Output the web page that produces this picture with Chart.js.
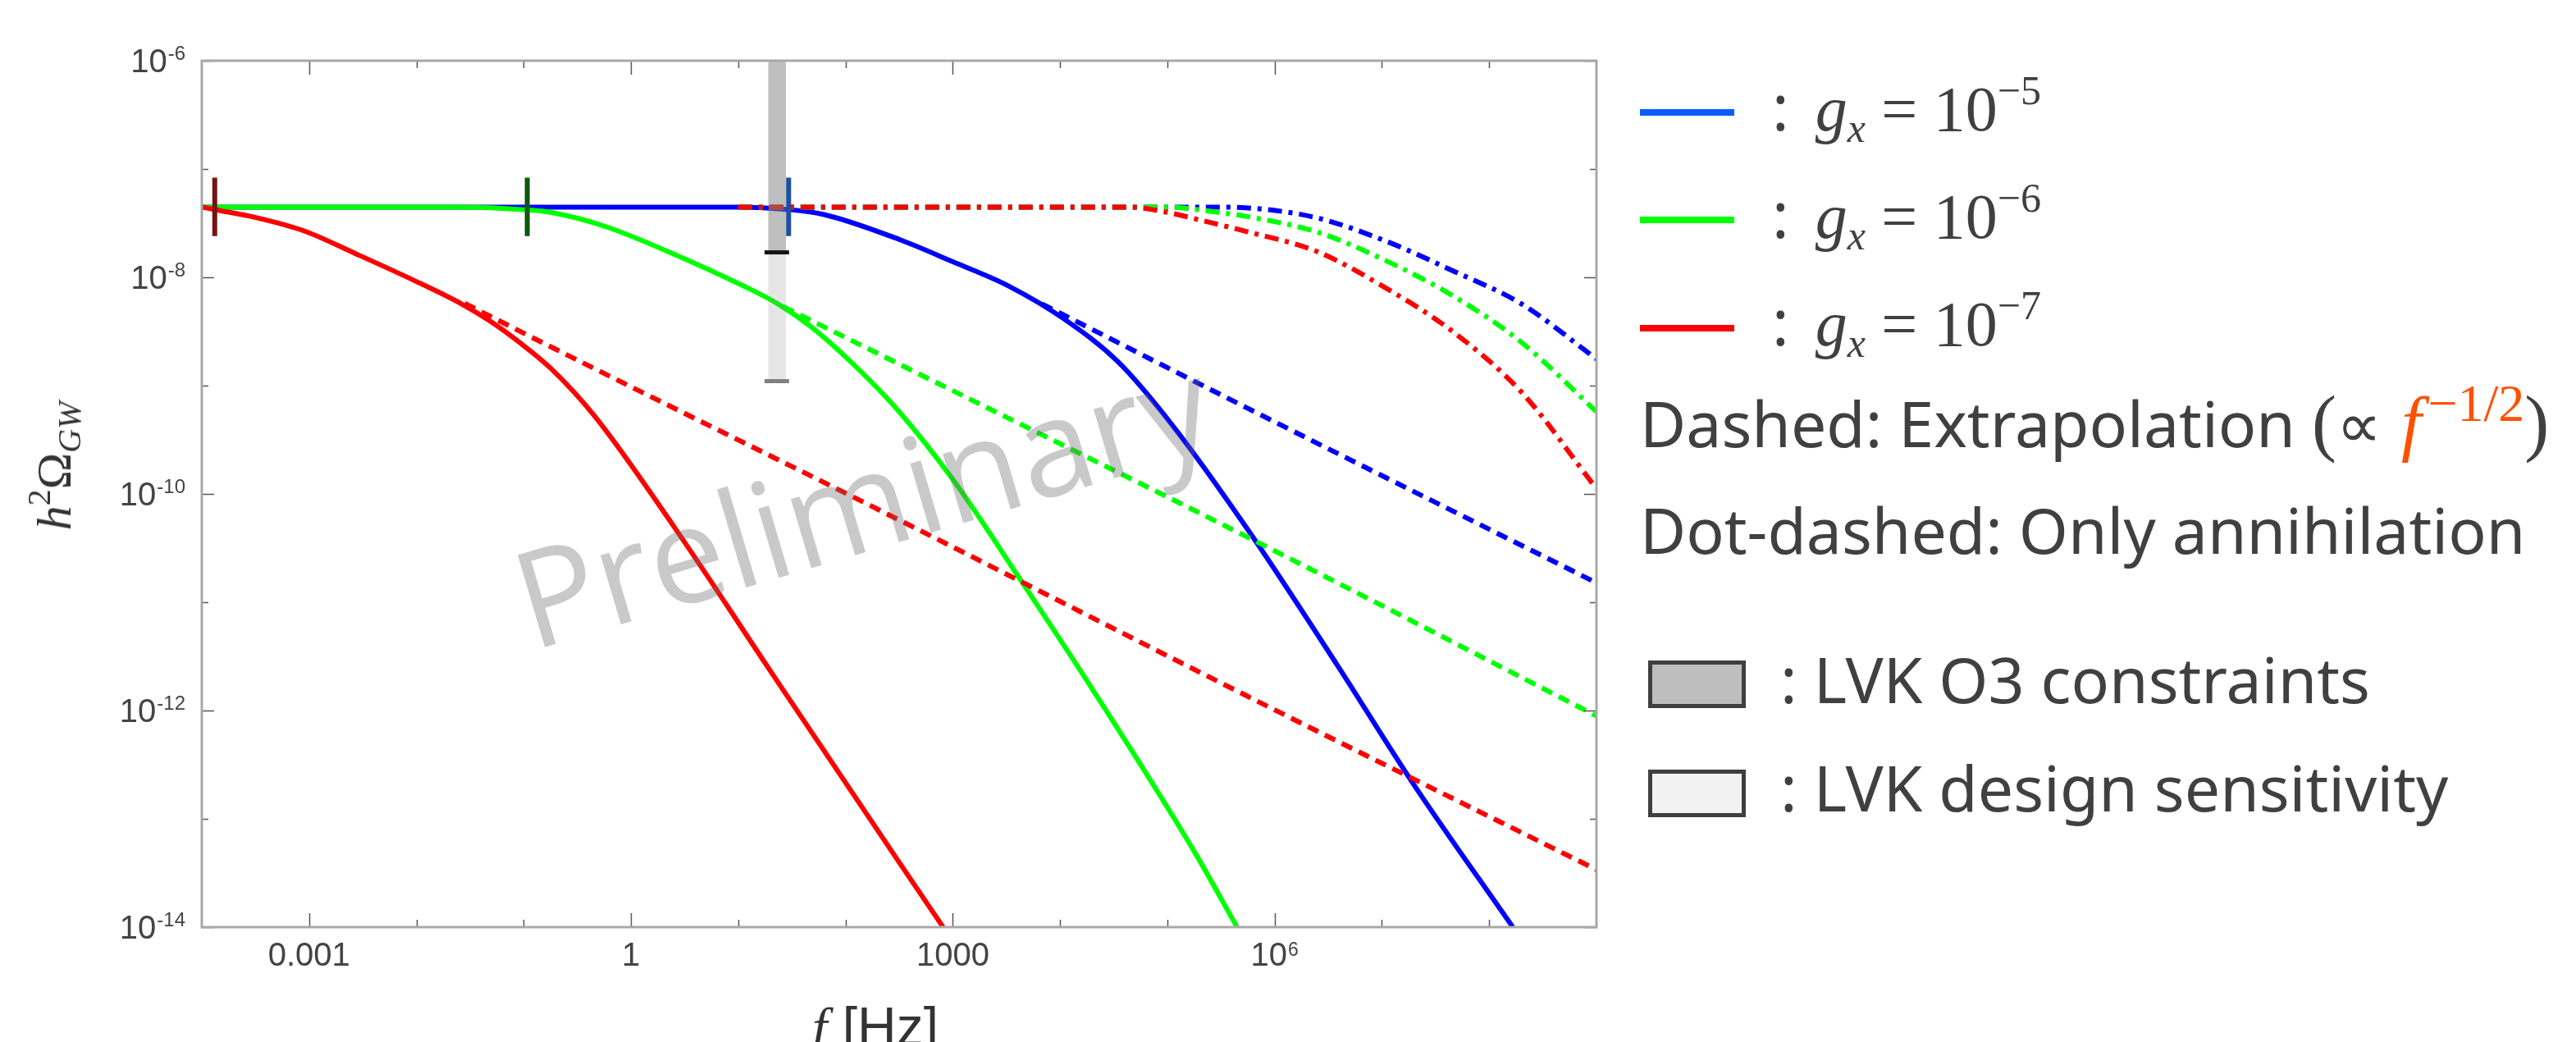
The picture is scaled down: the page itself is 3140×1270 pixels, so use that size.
<!DOCTYPE html>
<html lang="en">
<head>
<meta charset="UTF-8">
<title>GW spectrum</title>
<script src="https://cdn.jsdelivr.net/npm/chart.js"></script>
<style>
  body { margin:0; width:3140px; height:1270px; overflow:hidden; background:#fff; position:relative;
         font-family:"Noto Sans", sans-serif; color:#404040; }
  #chart { position:absolute; left:0; top:0; }
  .legline { position:absolute; left:1999px; width:115px; height:8px; }
  .row { position:absolute; white-space:nowrap; font-size:77px; line-height:1; }
  .math { font-family:"Liberation Serif", serif; font-size:78px; }
  .math i, .serif { font-family:"Liberation Serif", serif; }
  .sub { font-size:50px; font-style:italic; position:relative; top:14px; }
  .sup { font-size:50px; position:relative; top:-32px; }
  .orange { color:#ff5000; }
  .paren { font-family:"Liberation Serif", serif; font-size:90px; }
  .big { font-size:88px; margin-left:4px; }
  .sup2 { font-size:64px; position:relative; top:-32px; margin-left:8px; }
  .box { position:absolute; left:2009px; width:119px; height:58px; border:5px solid #3f3f3f; box-sizing:border-box; }
  #ylab { position:absolute; left:66px; top:568px; transform:translate(-50%,-50%) rotate(-90deg);
          font-family:"Liberation Serif", serif; font-size:60px; white-space:nowrap; color:#333; line-height:1; }
  #ylab .s1 { font-size:40px; position:relative; top:-25px; }
  #ylab .s2 { font-size:40px; position:relative; top:12px; font-style:italic; }
  #xlab { position:absolute; left:990px; top:1218px; font-family:"Liberation Sans", sans-serif; font-size:66px;
          line-height:1; white-space:nowrap; color:#333; }
  #xlab i { font-family:"Liberation Serif", serif; }
</style>
</head>
<body>
<canvas id="chart" width="3140" height="1270"></canvas>

<div id="ylab"><i>h</i><span class="s1">2</span>Ω<span class="s2">GW</span></div>
<div id="xlab"><i>f</i> [Hz]</div>

<div class="legline" style="top:133px;background:#0a5cff"></div>
<div class="legline" style="top:264px;background:#00ff00"></div>
<div class="legline" style="top:396px;background:#ff0000"></div>
<div class="row" style="left:2160px;top:91px"><span>:</span><span class="math" style="margin-left:32px"><i>g</i><span class="sub">x</span> = 10<span class="sup">−5</span></span></div>
<div class="row" style="left:2160px;top:222px"><span>:</span><span class="math" style="margin-left:32px"><i>g</i><span class="sub">x</span> = 10<span class="sup">−6</span></span></div>
<div class="row" style="left:2160px;top:353px"><span>:</span><span class="math" style="margin-left:32px"><i>g</i><span class="sub">x</span> = 10<span class="sup">−7</span></span></div>
<div class="row" style="left:1999px;top:470px">Dashed: Extrapolation <span class="paren">(</span>∝ <span class="orange"><i class="serif big">f</i><span class="sup2 serif">−1/2</span></span><span class="paren">)</span></div>
<div class="row" style="left:1999px;top:607px">Dot-dashed: Only annihilation</div>
<div class="box" style="top:805px;background:#bebebe"></div>
<div class="box" style="top:938px;background:#f2f2f2"></div>
<div class="row" style="left:2170px;top:789px">: LVK O3 constraints</div>
<div class="row" style="left:2170px;top:921px">: LVK design sensitivity</div>

<script>
// axis limits
const xMin = 1e-4, xMax = 1e9;
const yMin = 1e-14, yMax = 1e-6;

// ticks
const xTickValues = [1e-3, 1e-2, 1e-1, 1, 10, 100, 1e3, 1e4, 1e5, 1e6, 1e7, 1e8];
const xLabelValues = [1e-3, 1, 1e3, 1e6];
const xLabelBase = ['0.001', '1', '1000', '10'];
const xLabelExp = ['', '', '', '6'];
const yTickValues = [1e-13, 1e-12, 1e-11, 1e-10, 1e-9, 1e-8, 1e-7];
const yLabelValues = [1e-6, 1e-8, 1e-10, 1e-12, 1e-14];
const yLabelExp = ['-6', '-8', '-10', '-12', '-14'];

// solid curves (f [Hz], h^2 Omega_GW)
const redSolidF = [1e-4, 1.32e-4, 3.24e-4, 8.91e-4, 2.69e-3, 9.12e-3, 2.63e-2, 4.79e-2, 9.12e-2, 0.178, 0.457, 2.51, 19.5, 316, 813];
const redSolidOmega = [4.45e-8, 4.22e-8, 3.55e-8, 2.69e-8, 1.66e-8, 9.55e-9, 5.69e-9, 3.98e-9, 2.51e-9, 1.45e-9, 5.25e-10, 5.01e-11, 2.40e-12, 3.98e-14, 1e-14];
const greenSolidF = [1e-4, 0.0251, 0.108, 0.178, 0.575, 2.51, 10.7, 23.4, 46.8, 112, 316, 1023, 4467, 19055, 177828, 446684];
const greenSolidOmega = [4.45e-8, 4.45e-8, 4.19e-8, 3.98e-8, 2.95e-8, 1.64e-8, 8.51e-9, 5.69e-9, 3.55e-9, 1.66e-9, 5.75e-10, 1.32e-10, 1.51e-11, 1.70e-12, 5.01e-14, 1e-14];
const blueSolidF = [1e-4, 10, 29.5, 63.1, 316, 1023, 3311, 10715, 34674, 112202, 562341, 3.89e6, 1.91e7, 1.66e8];
const blueSolidOmega = [4.45e-8, 4.45e-8, 4.22e-8, 3.80e-8, 2.24e-8, 1.38e-8, 8.32e-9, 4.17e-9, 1.66e-9, 4.27e-10, 4.68e-11, 2.57e-12, 2.19e-13, 1e-14];

// dashed extrapolations
const redDashF = [0.0282, 0.178, 316, 562341, 1e9];
const redDashOmega = [5.75e-9, 2.29e-9, 5.75e-11, 1.35e-12, 3.39e-14];
const greenDashF = [26.3, 316, 562341, 1e9];
const greenDashOmega = [5.37e-9, 1.58e-9, 3.98e-11, 8.91e-13];
const blueDashF = [6761, 562341, 1e9];
const blueDashOmega = [5.69e-9, 6.17e-10, 1.51e-11];

// dot-dashed (only annihilation)
const redDotDashF = [10, 43652, 1e5, 199526, 562341, 2.45e6, 1.05e7, 4.57e7, 2.0e8, 1e9];
const redDotDashOmega = [4.45e-8, 4.45e-8, 3.98e-8, 3.39e-8, 2.63e-8, 1.74e-8, 8.13e-9, 3.16e-9, 8.71e-10, 1.12e-10];
const greenDotDashF = [10, 1e5, 251189, 562341, 2.45e6, 1.05e7, 4.57e7, 2.0e8, 1e9];
const greenDotDashOmega = [4.45e-8, 4.45e-8, 4.07e-8, 3.63e-8, 2.63e-8, 1.45e-8, 6.76e-9, 2.51e-9, 5.75e-10];
const blueDotDashF = [10, 251189, 562341, 2.45e6, 1.05e7, 4.57e7, 2.0e8, 1e9];
const blueDotDashOmega = [4.45e-8, 4.45e-8, 4.37e-8, 3.55e-8, 2.19e-8, 1.15e-8, 5.69e-9, 1.76e-9];

// vertical markers
const markerF = [1.32e-4, 0.108, 29.5];
const markerColors = ['#741515', '#0b5a0b', '#1f4fa0'];
const markerOmegaTop = 8.32e-8, markerOmegaBottom = 2.40e-8;

// LVK band
const lvkF = [19, 28];
const lvkCapF = [17.6, 29.8];
const lvkO3Omega = 1.7e-8;
const lvkDesignOmega = 1.1e-9;

function pts(fs, ys) { return fs.map((f, i) => ({ x: f, y: ys[i] })); }

function curve(fs, ys, color, dash) {
    return {
        data: pts(fs, ys),
        borderColor: color,
        borderWidth: 6,
        borderDash: dash || [],
        borderCapStyle: 'butt',
        cubicInterpolationMode: 'monotone',
        pointRadius: 0,
        fill: false,
        clip: 0
    };
}

function segment(fs, ys, color, width) {
    return { data: pts(fs, ys), borderColor: color, borderWidth: width, borderCapStyle: 'butt',
             pointRadius: 0, fill: false, tension: 0, clip: 0 };
}

const dotDash = [17, 8, 5, 8];
const dash = [14, 9];

const datasets = [];
// markers and caps on top
markerF.forEach((f, i) => datasets.push(segment([f, f], [markerOmegaTop, markerOmegaBottom], markerColors[i], 6)));
datasets.push(segment(lvkCapF, [lvkO3Omega, lvkO3Omega], '#141414', 5));
datasets.push(segment(lvkCapF, [lvkDesignOmega, lvkDesignOmega], '#808080', 5));
// LVK bars
datasets.push({ data: pts(lvkF, [lvkO3Omega, lvkO3Omega]), borderWidth: 0, pointRadius: 0,
                backgroundColor: 'rgba(128,128,128,0.5)', fill: { value: yMax }, clip: 0 });
datasets.push({ data: pts(lvkF, [lvkDesignOmega, lvkDesignOmega]), borderWidth: 0, pointRadius: 0,
                backgroundColor: 'rgba(128,128,128,0.2)', fill: { value: lvkO3Omega }, clip: 0 });
// lines
datasets.push(curve(redDotDashF, redDotDashOmega, '#ff0000', dotDash));
datasets.push(curve(greenDotDashF, greenDotDashOmega, '#00ff00', dotDash));
datasets.push(curve(blueDotDashF, blueDotDashOmega, '#0000ff', dotDash));
datasets.push(curve(redDashF, redDashOmega, '#ff0000', dash));
datasets.push(curve(greenDashF, greenDashOmega, '#00ff00', dash));
datasets.push(curve(blueDashF, blueDashOmega, '#0000ff', dash));
datasets.push(curve(redSolidF, redSolidOmega, '#ff0000'));
datasets.push(curve(greenSolidF, greenSolidOmega, '#00ff00'));
datasets.push(curve(blueSolidF, blueSolidOmega, '#0000ff'));

// frame, inward ticks, tick labels, watermark
const framePlugin = {
    id: 'framePlugin',
    afterDatasetsDraw(chart) {
        const { ctx, chartArea: a, scales: { x, y } } = chart;
        ctx.save();

        // watermark
        ctx.save();
        ctx.translate(a.left + a.width * 0.237, a.top + a.height * 0.681);
        ctx.rotate(-16.5 * Math.PI / 180);
        ctx.font = '164px "Open Sans", "Noto Sans", sans-serif';
        ctx.fillStyle = 'rgba(105,105,105,0.36)';
        ctx.textBaseline = 'alphabetic';
        ctx.fillText('Preliminary', 0, 0);
        ctx.restore();

        // ticks
        ctx.strokeStyle = '#555';
        ctx.lineWidth = 1.5;
        ctx.beginPath();
        xTickValues.forEach(v => {
            const px = Math.round(x.getPixelForValue(v)) + 0.5;
            const len = xLabelValues.includes(v) ? 17 : 9;
            ctx.moveTo(px, a.bottom); ctx.lineTo(px, a.bottom - len);
            ctx.moveTo(px, a.top); ctx.lineTo(px, a.top + len);
        });
        yTickValues.concat(yLabelValues).forEach(v => {
            const py = Math.round(y.getPixelForValue(v)) + 0.5;
            const len = yLabelValues.includes(v) ? 15 : 8;
            ctx.moveTo(a.left, py); ctx.lineTo(a.left + len, py);
            ctx.moveTo(a.right, py); ctx.lineTo(a.right - len, py);
        });
        ctx.stroke();

        // frame
        ctx.strokeStyle = '#a8a8a8';
        ctx.lineWidth = 3;
        ctx.strokeRect(a.left, a.top, a.right - a.left, a.bottom - a.top);

        // x labels
        ctx.fillStyle = '#444';
        ctx.textBaseline = 'alphabetic';
        ctx.textAlign = 'left';
        const baseFont = '40px "Liberation Sans", Arial, sans-serif';
        const expFont = '23px "Liberation Sans", Arial, sans-serif';
        xLabelValues.forEach((v, i) => {
            const px = x.getPixelForValue(v);
            ctx.font = baseFont;
            const wb = ctx.measureText(xLabelBase[i]).width;
            ctx.font = expFont;
            const we = xLabelExp[i] ? ctx.measureText(xLabelExp[i]).width + 1 : 0;
            const start = px - (wb + we) / 2;
            ctx.font = baseFont;
            ctx.fillText(xLabelBase[i], start, a.bottom + 47);
            if (xLabelExp[i]) {
                ctx.font = expFont;
                ctx.fillText(xLabelExp[i], start + wb + 1, a.bottom + 35);
            }
        });

        // y labels
        const right = a.left - 20;
        yLabelValues.forEach((v, i) => {
            const py = y.getPixelForValue(v);
            ctx.font = '24px "Liberation Sans", Arial, sans-serif';
            const we = ctx.measureText(yLabelExp[i]).width;
            ctx.fillText(yLabelExp[i], right - we, py - 1);
            ctx.font = '40px "Liberation Sans", Arial, sans-serif';
            const wb = ctx.measureText('10').width;
            ctx.fillText('10', right - we - 1 - wb, py + 14);
        });

        ctx.restore();
    }
};

const axisOpts = (min, max) => ({
    type: 'logarithmic', min: min, max: max, display: true,
    grid: { display: false, drawTicks: false },
    border: { display: false },
    ticks: { display: false },
    title: { display: false }
});

new Chart(document.getElementById('chart').getContext('2d'), {
    type: 'line',
    data: { datasets: datasets },
    options: {
        responsive: false,
        animation: false,
        layout: { padding: { left: 246, right: 1194, top: 74, bottom: 140 } },
        scales: { x: axisOpts(xMin, xMax), y: axisOpts(yMin, yMax) },
        plugins: { legend: { display: false }, tooltip: { enabled: false } }
    },
    plugins: [framePlugin]
});
</script>
</body>
</html>
